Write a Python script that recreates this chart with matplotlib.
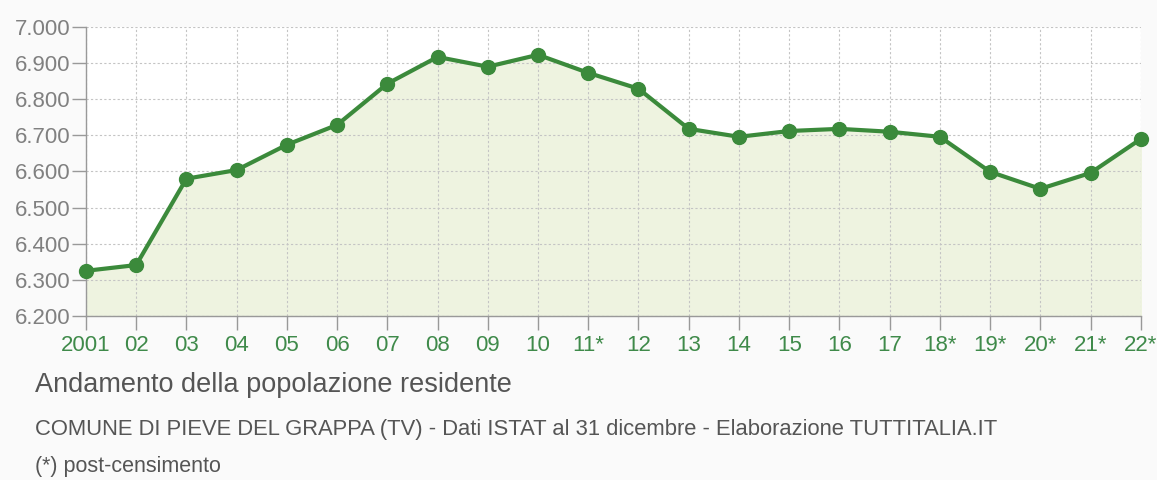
import matplotlib.pyplot as plt
import numpy as np

YEARS = ["2001", "02", "03", "04", "05", "06", "07", "08", "09", "10", "11*",
         "12", "13", "14", "15", "16", "17", "18*", "19*", "20*", "21*", "22*"]
POPULATION = [6325, 6341, 6580, 6604, 6674, 6729, 6843, 6917, 6890, 6923, 6873,
              6829, 6718, 6696, 6712, 6718, 6710, 6696, 6599, 6552, 6596, 6690]
Y_TICKS = [6200, 6300, 6400, 6500, 6600, 6700, 6800, 6900, 7000]

GREEN = "#3b8a3b"
FILL = "#eef3e0"
GRAY_TXT = "#808080"

plt.rcParams["font.family"] = ["Liberation Sans", "DejaVu Sans"]


def main() -> None:
    fig = plt.figure(figsize=(11.57, 4.8), dpi=100, facecolor="#fafafa")
    ax = fig.add_axes([0.0743, 0.3417, 0.9117, 0.6021])
    ax.set_facecolor("white")

    x = np.arange(len(YEARS))
    ax.fill_between(x, POPULATION, 6200, color=FILL, zorder=1)
    ax.plot(x, POPULATION, color=GREEN, lw=3, marker="o", ms=10, zorder=5,
            solid_joinstyle="round", clip_on=False)

    ax.set_xlim(0, len(YEARS) - 1)
    ax.set_ylim(6200, 7000)
    ax.set_xticks(x)
    ax.set_xticklabels(YEARS)
    ax.set_yticks(Y_TICKS)
    ax.set_yticklabels([f"{v/1000:.3f}" for v in Y_TICKS])

    ax.grid(True, color="#c4c4c4", ls=(0, (2, 2)), lw=0.8, zorder=2)
    for s in ("top", "right"):
        ax.spines[s].set_visible(False)
    for s in ("left", "bottom"):
        ax.spines[s].set_color("#999999")
        ax.spines[s].set_linewidth(1)
        ax.spines[s].set_zorder(4)

    ax.tick_params(axis="both", direction="out", length=10, color="#999999", width=1)
    ax.tick_params(axis="y", labelsize=16, labelcolor=GRAY_TXT, pad=1)
    ax.tick_params(axis="x", labelsize=16, labelcolor="#3f8a4a", pad=4)

    fig.text(0.030, 0.198, "Andamento della popolazione residente",
             fontsize=19.5, color="#555555", va="center")
    fig.text(0.030, 0.106,
             "COMUNE DI PIEVE DEL GRAPPA (TV) - Dati ISTAT al 31 dicembre - Elaborazione TUTTITALIA.IT",
             fontsize=15.8, color="#555555", va="center")
    fig.text(0.030, 0.029, "(*) post-censimento",
             fontsize=15.5, color="#555555", va="center")

    fig.savefig("out.png", dpi=100, facecolor=fig.get_facecolor())
    plt.close(fig)


if __name__ == "__main__":
    main()
